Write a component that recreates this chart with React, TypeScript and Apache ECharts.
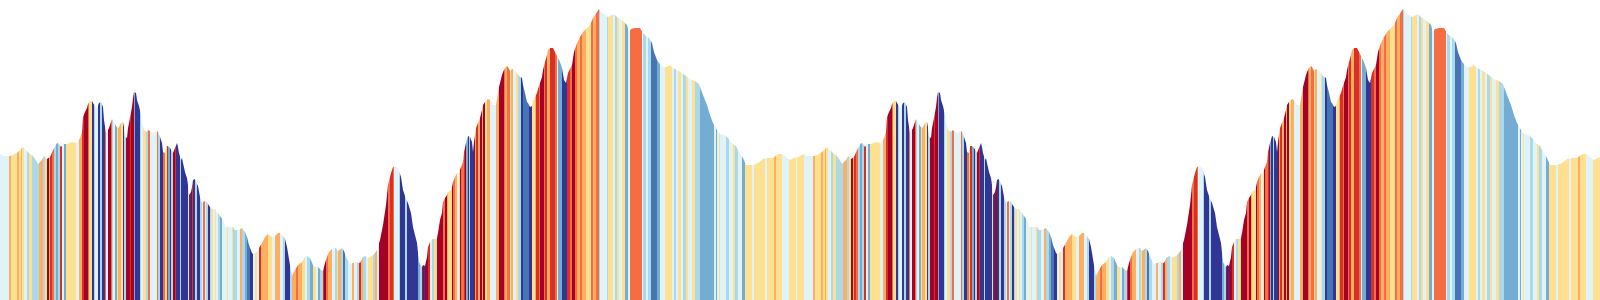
import React, { useEffect, useRef } from "react";
import * as echarts from "echarts";

// The course is two identical laps.
const LAP_LENGTH = 804;
const LAPS = 2;
const COURSE_END = 1600;
const ELEVATION_MAX = 300;

// One lap: [distance, elevation]
const lapProfile: [number, number][] = [
  [0, 146], [3, 144], [10, 144], [13, 145], [18, 148], [23, 153], [27, 149], [30, 146], [33, 144], [37, 138], [38, 136],
  [42, 140], [44, 144], [47, 141], [50, 143], [53, 150], [57, 157], [59, 156], [61, 153], [63, 156], [67, 156], [72, 158],
  [77, 157],
  [80, 162], [82, 168], [83, 183], [85, 188], [87, 192], [88, 196], [90, 199], [92, 199], [93, 197], [95, 194], [97, 192],
  [99, 197], [101, 198], [103, 193], [104, 180], [106, 167], [107, 168], [109, 172], [111, 178], [112, 181], [114, 178],
  [116, 174], [118, 172], [119, 173], [121, 177], [123, 178], [124, 173], [125, 163], [127, 162], [128, 172], [130, 182],
  [132, 193], [133, 202], [134, 208], [136, 207], [137, 200], [139, 194], [141, 185], [142, 177], [144, 170], [147, 168],
  [148, 170],
  [150, 169], [153, 167], [157, 169], [158, 168], [160, 163], [162, 157], [163, 148], [165, 147], [166, 154], [168, 154],
  [170, 152], [172, 149], [173, 147], [175, 152], [177, 157], [178, 153], [179, 147], [181, 140], [182, 142], [183, 137],
  [185, 128], [187, 122], [188, 115], [189, 105], [191, 108], [192, 113], [193, 120], [195, 121], [197, 116], [198, 114],
  [200, 103], [202, 97], [203, 98], [205, 99], [207, 98], [208, 96], [210, 93], [212, 91], [215, 91], [217, 88], [218, 87],
  [220, 84], [223, 80], [225, 73],
  [230, 73], [233, 73], [235, 70], [238, 70], [242, 72], [245, 68], [247, 63], [249, 55], [252, 47], [253, 46], [257, 48],
  [259, 52], [262, 57], [265, 63], [268, 66], [272, 63], [275, 64], [278, 67], [280, 67], [283, 64], [285, 61], [287, 53],
  [290, 35], [292, 24], [295, 30], [298, 35], [302, 38], [305, 43], [307, 44], [310, 42], [313, 35], [315, 33], [318, 33],
  [321, 30], [323, 29], [325, 37], [327, 43], [329, 48], [333, 52], [336, 52], [338, 49], [342, 52], [344, 49], [347, 41],
  [350, 36], [353, 37], [356, 38], [360, 37], [363, 43], [366, 44], [368, 42], [372, 44], [375, 47], [377, 50], [380, 60],
  [383, 75], [386, 95], [388, 115], [391, 127], [393, 133], [395, 134], [398, 132], [401, 123], [403, 110], [406, 101],
  [408, 97], [411, 87], [413, 73], [417, 57], [419, 38],
  [420, 36], [422, 33], [423, 35], [425, 34], [427, 43], [428, 53], [430, 58], [432, 61], [435, 61], [437, 62], [438, 67],
  [440, 80], [442, 87], [443, 98], [445, 102], [447, 105], [448, 108], [451, 110], [452, 113], [453, 118], [455, 123],
  [457, 127], [459, 127], [461, 133], [463, 138], [464, 148], [466, 157], [468, 164], [470, 163], [472, 158], [473, 148],
  [474, 158], [476, 172], [478, 177], [480, 182], [482, 190], [483, 195], [485, 198], [488, 201], [490, 200], [492, 197],
  [493, 195], [496, 195], [497, 201], [499, 213], [502, 225], [503, 228], [505, 232], [507, 234], [508, 233], [510, 229],
  [512, 231], [513, 231], [515, 229], [517, 227], [519, 224], [522, 222], [523, 215], [525, 207], [527, 198], [528, 197],
  [530, 193], [532, 194], [533, 199], [535, 203], [537, 207], [538, 211], [540, 217], [542, 223], [543, 230], [545, 238],
  [547, 245], [548, 250], [550, 252], [553, 252], [555, 248], [557, 244], [558, 242],
  [560, 238], [562, 232], [564, 220], [566, 217], [568, 227], [572, 235], [574, 248], [577, 257], [580, 263], [583, 268],
  [587, 272], [590, 275], [593, 282], [597, 288], [599, 291], [602, 287], [605, 285], [608, 283], [612, 285], [614, 286],
  [617, 283], [620, 281], [623, 279], [627, 275], [629, 268], [631, 271], [635, 272], [640, 272], [643, 267], [646, 264],
  [649, 262], [652, 257], [654, 248], [657, 240], [659, 237], [663, 233], [667, 233], [670, 235], [673, 232], [677, 230],
  [682, 227], [686, 224], [690, 221], [695, 219], [699, 216],
  [700, 213], [703, 205], [707, 195], [710, 185], [713, 177], [717, 170], [720, 166], [725, 165], [728, 162], [732, 157],
  [736, 154], [739, 148], [743, 142], [746, 135], [753, 135], [758, 137], [763, 141], [768, 142], [773, 142], [778, 146],
  [782, 146], [786, 143], [790, 140], [794, 142], [798, 143]
];

// Gradient stripes of one lap: [start distance, gradient class 0 (steep descent) .. 9 (steep climb)]
const lapStripes: [number, number][] = [
  [0, 4], [9, 6], [11, 5], [17, 6], [19, 5], [21, 6], [22, 5], [24, 4], [27, 3], [29, 5], [32, 3], [39, 6], [43, 3],
  [45, 5], [47, 9], [49, 6], [50, 8], [52, 7], [54, 3], [56, 2], [58, 3], [60, 8], [62, 4], [64, 2], [66, 5], [76, 4],
  [79, 6],
  [82, 8], [84, 9], [88, 7], [89, 5], [92, 0], [93.5, 3], [95, 4], [98, 0], [100.5, 3], [102.5, 0], [105, 7], [106.5, 4],
  [108, 9], [110.5, 7], [112, 3], [113.5, 4], [115, 2], [116.5, 5], [118.5, 6], [120.5, 5], [122.5, 0], [124.5, 3],
  [126, 9], [130, 8], [131.5, 9], [133.5, 2], [135, 0], [140, 3], [141.5, 4], [143, 5], [146.5, 3], [148, 7],
  [150, 4], [151.5, 5], [152.5, 4], [156.5, 7], [158, 3], [160, 0], [163, 7], [165, 5], [166.5, 8], [168, 2], [170, 0],
  [171.5, 3], [173, 9], [175, 8], [176.5, 0], [180, 3], [181.5, 0], [188.5, 5], [189.5, 0], [190.5, 9], [192.5, 8],
  [193.5, 0], [195, 3], [196.5, 0], [200, 3], [201.5, 4], [203, 7], [205, 4], [206.5, 3], [208, 0], [210, 3], [211.5, 5],
  [213, 4], [215, 5], [216.5, 4], [218, 3],
  [220, 2], [222, 4], [227, 5], [228, 4], [232, 5], [233, 3], [237, 4], [240, 6], [242, 3], [245, 2], [247, 1], [250, 0],
  [253, 4], [255, 5], [257, 4], [259, 8], [261, 6], [268, 5], [272, 4], [275, 6],
  [280, 4], [283, 3], [285, 0], [290, 3], [292, 6], [296, 7], [298, 6], [302, 5], [305, 4], [307, 3], [310, 2], [313, 5],
  [316, 4], [318, 2], [320, 3], [323, 8], [324, 9], [326, 7], [328, 6], [332, 4], [335, 3], [337, 5], [338, 6], [341, 3],
  [343, 1], [345, 3], [348, 4], [352, 6], [354, 4], [357, 3], [359, 8], [361, 6], [363, 3], [366, 4], [368, 5], [373, 3],
  [375, 6], [377, 4], [379, 9], [388, 7], [390, 8], [393, 7], [394, 4], [399, 3], [400, 0], [405, 3], [407, 0], [418, 2],
  [420, 3], [421.5, 0], [422.5, 9], [424, 0], [425.5, 9], [427.5, 8], [429.5, 9], [430.5, 4], [432, 3], [433.5, 5],
  [437.5, 9], [443.5, 7], [445, 9], [446.5, 6], [448, 5], [451.5, 9], [453.5, 7], [455, 6], [456.5, 4], [458.5, 5],
  [460, 9], [461.5, 7], [463.5, 8], [465, 9], [466.5, 2], [467.5, 0], [469, 3], [470, 0], [473.5, 9], [475, 6], [476.5, 8],
  [478.5, 6], [480, 9], [481.5, 6], [483, 9], [485, 5], [486.5, 6],
  [490, 4], [496, 6], [498.5, 9], [503.5, 7], [505, 6], [507.5, 7], [509.5, 5], [511.5, 6], [513.5, 4], [516.5, 5],
  [518.5, 3], [520.5, 0], [523.5, 1], [529.5, 0], [531.5, 5], [535, 6], [536.5, 8], [539, 7], [540.5, 9], [543.5, 7],
  [545, 8], [547.5, 6], [549.5, 8], [555, 7], [556.5, 4], [558.5, 2],
  [560, 2], [562, 0], [567, 8], [570, 7], [572, 9], [575, 7], [577, 6], [580, 7], [582, 6], [586, 5], [591, 7], [593, 6],
  [596, 7], [599, 3], [600, 4], [607, 3], [608, 5], [613, 4], [615, 3], [617, 5], [619, 4], [622, 5], [625, 2], [628, 4],
  [630, 7], [642, 4], [643, 3], [646, 4], [648, 3], [651, 1], [657, 2], [660, 4], [665, 5], [672, 4], [674, 3], [676, 4],
  [678, 5], [681, 4], [683, 3], [686, 5], [688, 4], [692, 5], [695, 3],
  [700, 2], [714, 4], [716, 2], [717, 4], [719, 5], [720, 4], [726, 3], [729, 4], [733, 5], [735, 3], [738, 4], [742, 2],
  [745, 5], [752, 4], [754, 5], [765, 4], [767, 5], [774, 6], [776, 5], [782, 4], [789, 5], [796, 4], [797, 5]
];

const classColors = [
  "#313695", "#4575b4", "#74add1", "#abd9e9", "#e0f3f8",
  "#fee090", "#fdae61", "#f46d43", "#d73027", "#a50026"
];

function buildSeriesData() {
  const out: [number, number][] = [];
  for (let lap = 0; lap < LAPS; lap++) {
    for (const [d, e] of lapProfile) out.push([d + lap * LAP_LENGTH, e]);
  }
  out.push([LAPS * LAP_LENGTH, lapProfile[0][1]]);
  return out;
}

function buildPieces() {
  const pieces: { gte: number; lt: number; color: string }[] = [];
  for (let lap = 0; lap < LAPS; lap++) {
    for (let i = 0; i < lapStripes.length; i++) {
      const s = lapStripes[i][0] + lap * LAP_LENGTH;
      const e = (i + 1 < lapStripes.length ? lapStripes[i + 1][0] : LAP_LENGTH) + lap * LAP_LENGTH;
      pieces.push({ gte: s, lt: e, color: classColors[lapStripes[i][1]] });
    }
  }
  return pieces;
}

export default function App() {
  const ref = useRef<HTMLDivElement>(null);
  useEffect(() => {
    document.body.style.margin = "0";
    if (!ref.current) return;
    const chart = echarts.init(ref.current, undefined, { renderer: "svg" });
    chart.setOption({
      animation: false,
      grid: { left: 0, right: 0, top: 0, bottom: 0 },
      xAxis: { type: "value", min: 0, max: COURSE_END, show: false },
      yAxis: { type: "value", min: 0, max: ELEVATION_MAX, show: false },
      visualMap: {
        type: "piecewise",
        show: false,
        dimension: 0,
        seriesIndex: 0,
        pieces: buildPieces(),
        outOfRange: { color: "#e0f3f8" }
      },
      series: [
        {
          type: "line",
          data: buildSeriesData(),
          showSymbol: false,
          symbol: "none",
          lineStyle: { width: 0 },
          areaStyle: { opacity: 1 },
          silent: true
        }
      ]
    });
    return () => chart.dispose();
  }, []);
  return <div ref={ref} style={{ width: 1600, height: 300 }} />;
}
